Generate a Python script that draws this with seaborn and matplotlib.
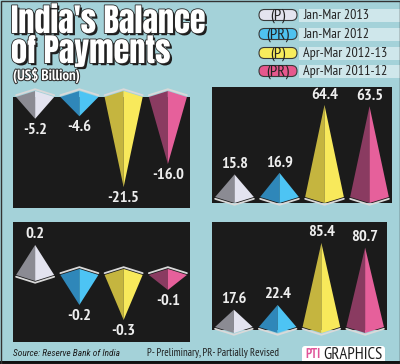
import numpy as np
import pandas as pd
import matplotlib
matplotlib.use("Agg")
import matplotlib.pyplot as plt
import seaborn as sns
from matplotlib.patches import Polygon, FancyBboxPatch, Rectangle
import matplotlib.patheffects as pe

# ---------------- data ----------------
periods = ["Jan-Mar 2013", "Jan-Mar 2012", "Apr-Mar 2012-13", "Apr-Mar 2011-12"]
tags = ["(P)", "(PR)", "(P)", "(PR)"]
primary_income = [-5.2, -4.6, -21.5, -16.0]
secondary_income = [15.8, 16.9, 64.4, 63.5]
capital_account = [0.2, -0.2, -0.3, -0.1]
financial_account = [17.6, 22.4, 85.4, 80.7]

# ---------------- style ----------------
BG = "#a4d2d9"
PANEL = "#1b1b1b"
DARK = ["#8b8b93", "#2f87b9", "#c5b53f", "#8a3b61"]
LIGHT = ["#e3e3ef", "#4dc4f4", "#f8e95b", "#e6609b"]
PILL = ["#e4e4ef", "#4fc2ef", "#f7ec5c", "#e6588d"]

sns.set_theme(style="white")
BODY = ["PT Sans Narrow", "Roboto Condensed", "Open Sans Condensed", "Cabin Condensed",
        "Encode Sans Condensed", "TeX Gyre Heros Cn", "DejaVu Sans"]
ITAL = ["Roboto Condensed", "Open Sans Condensed", "TeX Gyre Heros Cn", "Cabin Condensed",
        "PT Sans Narrow", "DejaVu Sans"]
HEAD = ["Anton", "Oswald", "Fjalla One", "Encode Sans Condensed", "TeX Gyre Heros Cn",
        "DejaVu Sans"]
plt.rcParams["font.family"] = BODY

W, H = 400, 364
fig = plt.figure(figsize=(W / 100, H / 100), dpi=100, facecolor=BG)
bg = fig.add_axes([0, 0, 1, 1])
bg.set_xlim(0, W)
bg.set_ylim(H, 0)
bg.axis("off")
renderer = fig.canvas.get_renderer()


def size_for(s, target_w, **kw):
    t = bg.text(0, 0, s, fontsize=10, **kw)
    w = t.get_window_extent(renderer).width
    t.remove()
    return 10 * target_w / max(w, 1)


shadow = [pe.SimplePatchShadow(offset=(1.6, -1.6), shadow_rgbFace="#1e1e1e", alpha=1.0),
          pe.Stroke(linewidth=1.2, foreground="#2a2a2a"), pe.Normal()]

# ---------------- title ----------------
fs_title = size_for("India's Balance", 195, family=HEAD, fontweight="bold")
bg.text(11, 33, "India's Balance", fontsize=fs_title, fontweight="bold", family=HEAD,
        color="white", va="baseline", ha="left", path_effects=shadow)
bg.text(11, 63, "of Payments", fontsize=fs_title, fontweight="bold", family=HEAD,
        color="white", va="baseline", ha="left", path_effects=shadow)
fs_sub = size_for("(US$ Billion)", 67, fontweight="bold")
bg.text(13, 80, "(US$ Billion)", fontsize=fs_sub, fontweight="bold", color="white",
        va="baseline", ha="left",
        path_effects=[pe.Stroke(linewidth=1.5, foreground="#333333"), pe.Normal()])

# ---------------- legend ----------------
rows_y = [15, 34, 53, 71]
fs_leg = size_for("Jan-Mar 2013", 66)
fs_tag = size_for("(PR)", 23)
for yy, tag, lab, col in zip(rows_y, tags, periods, PILL):
    bg.add_patch(Rectangle((299, yy - 6.5), 101, 13, facecolor="#cfe7eb", edgecolor="none"))
    bg.add_patch(FancyBboxPatch((259, yy - 5.5), 38, 11,
                                boxstyle="round,pad=0,rounding_size=5.5",
                                facecolor=col, edgecolor="#3a3a3a", linewidth=0.8))
    bg.text(278, yy + 0.5, tag, fontsize=fs_tag, color="#222222", ha="center", va="center")
    bg.text(303, yy + 0.5, lab, fontsize=fs_leg, color="#222222", ha="left", va="center")

fs_num = size_for("64.4", 27, fontweight="bold")


# ---------------- panels ----------------
def panel(rect_px, values, ylim, width=0.86):
    x0, y0, x1, y1 = rect_px
    ax = fig.add_axes([x0 / W, 1 - y1 / H, (x1 - x0) / W, (y1 - y0) / H])
    df = pd.DataFrame({"period": periods, "value": values})
    sns.barplot(data=df, x="period", y="value", order=periods, width=width,
                errorbar=None, color="k", ax=ax)
    ax.set_xlim(-0.5, 3.5)
    ax.set_ylim(*ylim)
    ax.set_facecolor(PANEL)
    for s in ax.spines.values():
        s.set_visible(False)
    ax.set_xticks([])
    ax.set_yticks([])
    ax.set_xlabel("")
    ax.set_ylabel("")
    u = (ylim[1] - ylim[0]) / (y1 - y0)  # data units per pixel
    d = 6 * u
    for i, (p, v) in enumerate(zip(ax.patches, values)):
        p.set_visible(False)
        cx = p.get_x() + p.get_width() / 2
        w = p.get_width()
        h = p.get_height()
        L = (cx - w / 2, 0)
        R = (cx + w / 2, 0)
        A = (cx, h)
        if h >= 0:
            E = (cx, -d)
            off = -1.8 * u
        else:
            E = (cx, d)
            off = 1.8 * u
        ax.plot([L[0], E[0], R[0]], [L[1] + off, E[1] + off, R[1] + off],
                color="#d9d9d9", lw=1.3, clip_on=False, zorder=2, solid_joinstyle="miter")
        ax.add_patch(Polygon([A, L, E], closed=True, facecolor=DARK[i], edgecolor="none",
                             clip_on=False, zorder=3))
        ax.add_patch(Polygon([A, E, R], closed=True, facecolor=LIGHT[i], edgecolor="none",
                             clip_on=False, zorder=3))
        if h >= 0:
            ax.annotate(f"{v:.1f}", (cx, h), xytext=(0, 2.5), textcoords="offset points",
                        ha="center", va="bottom", color="#eeeeee", fontsize=fs_num,
                        fontweight="bold", annotation_clip=False, zorder=4)
        else:
            ax.annotate(f"{v:.1f}", (cx, h), xytext=(0, -3), textcoords="offset points",
                        ha="center", va="top", color="#eeeeee", fontsize=fs_num,
                        fontweight="bold", annotation_clip=False, zorder=4)
    return ax


panel((13, 97, 190, 208), primary_income, (-26.5, 0.0))
panel((212, 87, 392, 203), secondary_income, (-4.2, 77.0))
panel((13, 222, 190, 342), capital_account, (-0.447, 0.353))
panel((212, 222, 387, 330), financial_account, (-3.05, 106.7))

fs_lab = size_for("Secondary", 57, fontweight="bold")
lab_kw = dict(fontsize=fs_lab, fontweight="bold", color="white", va="center")
bg.text(19, 176, "Primary", ha="left", **lab_kw)
bg.text(19, 195, "Income", ha="left", **lab_kw)
bg.text(218, 97, "Secondary", ha="left", **lab_kw)
bg.text(218, 117, "Income", ha="left", **lab_kw)
bg.text(175, 232, "Capital", ha="right", **lab_kw)
bg.text(175, 252, "Account", ha="right", **lab_kw)
bg.text(218, 232, "Financial", ha="left", **lab_kw)
bg.text(218, 251, "Account", ha="left", **lab_kw)

# ---------------- footer ----------------
fs_src = size_for("Source: Reserve Bank of India", 107, style="italic", family=ITAL)
bg.text(13, 353, "Source: Reserve Bank of India", fontsize=fs_src, style="italic",
        family=ITAL, color="#1e1e1e", ha="left", va="center")
fs_note = size_for("P- Preliminary, PR- Partially Revised", 133)
bg.text(147, 353, "P- Preliminary, PR- Partially Revised", fontsize=fs_note,
        color="#1e1e1e", ha="left", va="center")
bg.add_patch(FancyBboxPatch((302, 346), 83, 20, boxstyle="round,pad=0,rounding_size=3",
                            facecolor="white", edgecolor="none"))
fs_pti = size_for("PTI", 15, fontweight="bold")
bg.text(305, 355, "PTI", fontsize=fs_pti, fontweight="bold", color="#e0559a",
        ha="left", va="center")
fs_gr = size_for("GRAPHICS", 59)
bg.text(323, 355, "GRAPHICS", fontsize=fs_gr, color="#1e1e1e", ha="left", va="center")
bg.add_patch(Rectangle((0, 361), W, 4, facecolor="#111111", edgecolor="none"))
bg.add_patch(Rectangle((0.5, 0.5), W - 1, H - 1, facecolor="none", edgecolor="#333333", lw=1))

fig.savefig("out.png", dpi=100, facecolor=BG)
